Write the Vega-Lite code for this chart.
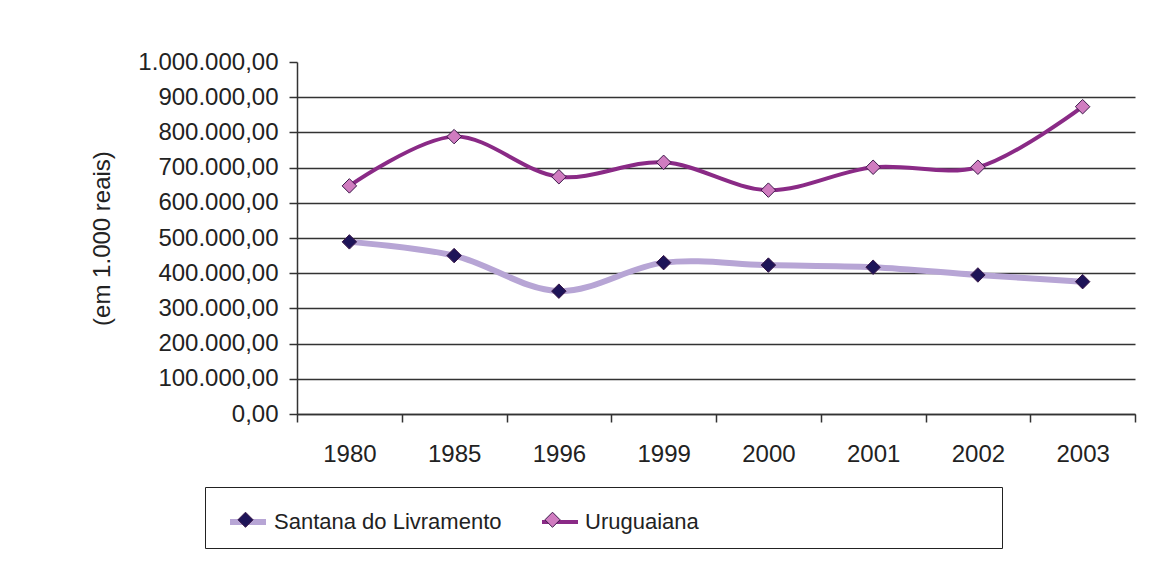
{
  "$schema": "https://vega.github.io/schema/vega-lite/v6.json",
  "width": 838,
  "height": 352,
  "autosize": "none",
  "padding": {"left": 297, "top": 62, "right": 17, "bottom": 171},
  "background": "white",
  "config": {
    "locale": {"number": {"decimal": ",", "thousands": ".", "grouping": [3], "currency": ["R$ ", ""]}},
    "view": {"stroke": null},
    "font": "Liberation Sans"
  },
  "data": {
    "values": [
      {"ano": "1980", "municipio": "Santana do Livramento", "valor": 489000},
      {"ano": "1985", "municipio": "Santana do Livramento", "valor": 450000},
      {"ano": "1996", "municipio": "Santana do Livramento", "valor": 349000},
      {"ano": "1999", "municipio": "Santana do Livramento", "valor": 430000},
      {"ano": "2000", "municipio": "Santana do Livramento", "valor": 423000},
      {"ano": "2001", "municipio": "Santana do Livramento", "valor": 417000},
      {"ano": "2002", "municipio": "Santana do Livramento", "valor": 395000},
      {"ano": "2003", "municipio": "Santana do Livramento", "valor": 376000},
      {"ano": "1980", "municipio": "Uruguaiana", "valor": 648000},
      {"ano": "1985", "municipio": "Uruguaiana", "valor": 788000},
      {"ano": "1996", "municipio": "Uruguaiana", "valor": 674000},
      {"ano": "1999", "municipio": "Uruguaiana", "valor": 715000},
      {"ano": "2000", "municipio": "Uruguaiana", "valor": 636000},
      {"ano": "2001", "municipio": "Uruguaiana", "valor": 701000},
      {"ano": "2002", "municipio": "Uruguaiana", "valor": 701000},
      {"ano": "2003", "municipio": "Uruguaiana", "valor": 873000}
    ]
  },
  "encoding": {
    "x": {
      "field": "ano", "type": "ordinal", "sort": null,
      "axis": {
        "title": null, "labelAngle": 0, "tickBand": "extent", "tickSize": 8, "labelPadding": 20,
        "labelFontSize": 24, "labelColor": "#222", "domainColor": "#333", "tickColor": "#333",
        "domainWidth": 1.5, "tickWidth": 1.5, "grid": false
      }
    },
    "y": {
      "field": "valor", "type": "quantitative",
      "scale": {"domain": [0, 1000000], "nice": false},
      "axis": {
        "values": [0, 100000, 200000, 300000, 400000, 500000, 600000, 700000, 800000, 900000, 1000000],
        "format": ",.2f", "title": "(em 1.000 reais)",
        "labelFontSize": 24, "labelColor": "#222", "tickSize": 8, "labelPadding": 11,
        "tickColor": "#333", "domainColor": "#333", "domainWidth": 1.5, "tickWidth": 1.5,
        "grid": true,
        "gridColor": {"condition": {"test": "datum.value >= 1000000", "value": "transparent"}, "value": "#333"},
        "gridWidth": 1.5,
        "titleFontSize": 24, "titleFontWeight": "normal", "titleColor": "#222",
        "titleX": -195, "titleY": 176, "titleAngle": -90, "titleAlign": "center", "titleBaseline": "middle"
      }
    }
  },
  "layer": [
    {
      "mark": {"type": "line", "interpolate": "catmull-rom"},
      "encoding": {
        "stroke": {
          "field": "municipio", "type": "nominal",
          "scale": {"domain": ["Santana do Livramento", "Uruguaiana"], "range": ["#b7a5d5", "#8a2a86"]},
          "legend": {
            "orient": "none", "legendX": -92, "legendY": 425, "direction": "horizontal", "title": null,
            "strokeColor": "#222", "padding": 14, "symbolType": "stroke", "symbolSize": 1296,
            "symbolStrokeWidth": 5, "labelFont": "Liberation Sans", "labelFontSize": 22,
            "labelColor": "#222", "labelOffset": 5, "columnPadding": 30, "symbolOffset": 8, "labelLimit": 800,
            "encode": {"symbols": {"update": {"shape": {"signal": "datum.index === 1 ? 'M-1,0L1,0M23.3,0' : 'stroke'"}}}}
          }
        },
        "strokeWidth": {
          "field": "municipio", "type": "ordinal",
          "scale": {"domain": ["Santana do Livramento", "Uruguaiana"], "range": [6, 4]},
          "legend": null
        }
      }
    },
    {
      "mark": {"type": "point", "shape": "diamond", "filled": true, "size": 210, "stroke": "#3a1848", "strokeWidth": 1, "opacity": 1},
      "encoding": {
        "fill": {
          "field": "municipio", "type": "nominal",
          "scale": {"range": ["#1e1458", "#d07cc0"]},
          "legend": {
            "orient": "none", "legendX": -92, "legendY": 425, "direction": "horizontal", "title": null,
            "padding": 14, "symbolType": "M0,-0.42L0.42,0L0,0.42L-0.42,0Z", "symbolSize": 1296,
            "symbolStrokeColor": "#3a1848", "symbolStrokeWidth": 1, "labelFont": "Liberation Sans", "labelFontSize": 22,
            "labelColor": "#222", "labelOffset": 5, "columnPadding": 257, "symbolOffset": 8, "labelLimit": 800,
            "labelExpr": "''"
          }
        }
      }
    }
  ]
}
